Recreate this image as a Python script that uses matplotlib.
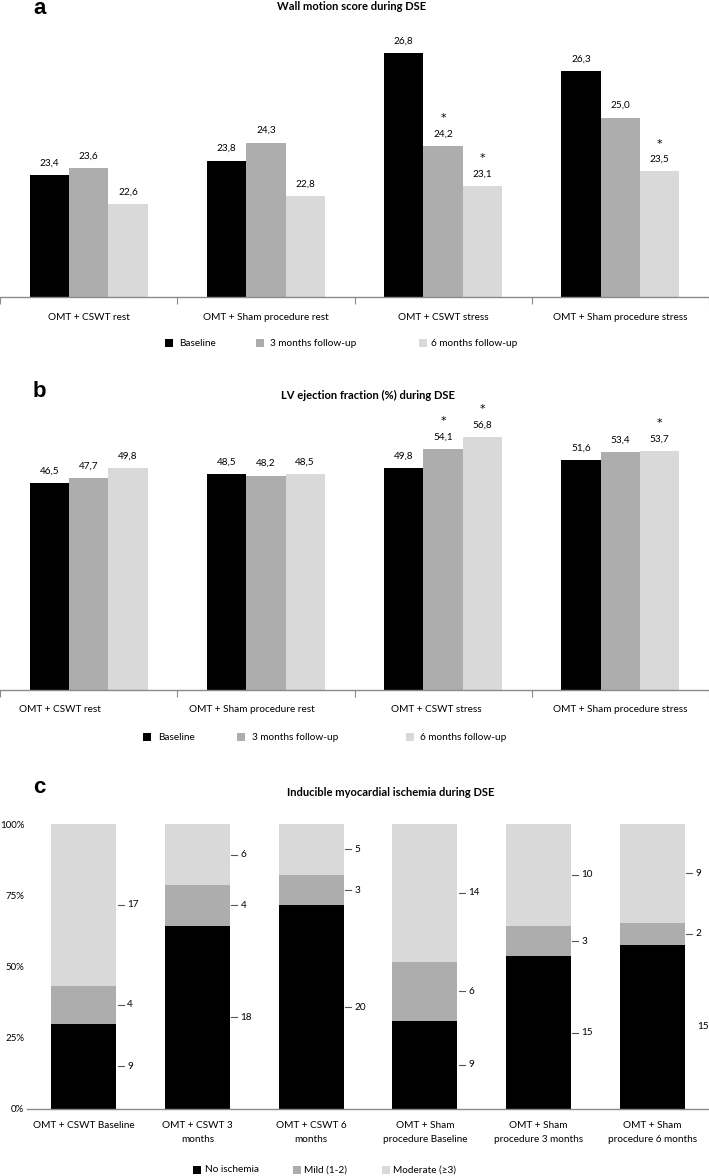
import matplotlib
matplotlib.use('Agg')
import matplotlib.pyplot as plt
from matplotlib.patches import Rectangle
import numpy as np

plt.rcParams['font.family'] = ['Lato', 'DejaVu Sans']

# --- data -------------------------------------------------------------
groups_ab = ['OMT + CSWT rest', 'OMT + Sham procedure rest',
             'OMT + CSWT stress', 'OMT + Sham procedure stress']
series_ab = ['Baseline', '3 months follow-up', '6 months follow-up']

wms_baseline = [23.4, 23.8, 26.8, 26.3]
wms_3m = [23.6, 24.3, 24.2, 25.0]
wms_6m = [22.6, 22.8, 23.1, 23.5]

lvef_baseline = [46.5, 48.5, 49.8, 51.6]
lvef_3m = [47.7, 48.2, 54.1, 53.4]
lvef_6m = [49.8, 48.5, 56.8, 53.7]

# significance marks (*) per series, per group
star_baseline = [False, False, False, False]
star_3m = [False, False, True, False]
star_6m = [False, False, True, True]

groups_c = ['OMT + CSWT Baseline', 'OMT + CSWT 3\nmonths', 'OMT + CSWT 6\nmonths',
            'OMT + Sham\nprocedure Baseline', 'OMT + Sham\nprocedure 3 months',
            'OMT + Sham\nprocedure 6 months']
series_c = ['No ischemia', 'Mild (1-2)', 'Moderate (\u22653)']
no_ischemia = [9, 18, 20, 9, 15, 15]
mild = [4, 4, 3, 6, 3, 2]
moderate = [17, 6, 5, 14, 10, 9]

colors = ['#000000', '#adadad', '#d9d9d9']
W, H = 709, 1176
FS = 7.2


def fx(px):
    return px / W


def fy(py):
    return 1 - py / H


def fmt(v):
    return f'{v:.1f}'.replace('.', ',')


def legend_item(xsq, xtxt, y, color, label):
    fig.add_artist(Rectangle((fx(xsq), fy(y + 4)), 8 / W, 8 / H,
                             transform=fig.transFigure, color=color, lw=0))
    fig.text(fx(xtxt), fy(y), label, fontsize=FS, va='center', ha='left')


def grouped_panel(ax, values, stars, ymin, ymax, label_x):
    w = 0.222
    x = np.arange(len(groups_ab))
    for k, (vals, st) in enumerate(zip(values, stars)):
        xs = x + (k - 1) * w
        ax.bar(xs, vals, width=w, color=colors[k], bottom=0, lw=0)
        for xi, v, s in zip(xs, vals, st):
            ax.annotate(fmt(v), (xi, v), xytext=(0, 8.6), textcoords='offset points',
                        ha='center', va='center', fontsize=FS)
            if s:
                ax.annotate('*', (xi, v), xytext=(0, 20), textcoords='offset points',
                            ha='center', va='center', fontsize=8, family='DejaVu Sans')
    ax.set_xlim(-0.5, 3.5)
    ax.set_ylim(ymin, ymax)
    for side in ['top', 'right', 'left']:
        ax.spines[side].set_visible(False)
    ax.spines['bottom'].set_color('#8a8a8a')
    ax.spines['bottom'].set_linewidth(1.0)
    ax.set_yticks([])
    ax.set_xticks([-0.5, 0.5, 1.5, 2.5, 3.5])
    ax.set_xticklabels([])
    ax.tick_params(axis='x', length=5, color='#8a8a8a', width=0.8)
    for lx, g in zip(label_x, groups_ab):
        ax.annotate(g, (lx, 0), xycoords=('data', 'axes fraction'),
                    xytext=(0, -14.4), textcoords='offset points',
                    ha='center', va='center', fontsize=FS)


fig = plt.figure(figsize=(W / 100, H / 100), dpi=100)

# --- panel a ----------------------------------------------------------
ax_a = fig.add_axes([0, fy(297), 1, 277 / H])
wms = [wms_baseline, wms_3m, wms_6m]
stars = [star_baseline, star_3m, star_6m]
grouped_panel(ax_a, wms, stars, 20, 20 + 277 / 35.9, [0, 1, 2, 3])
fig.text(fx(33), fy(14), 'a', fontsize=16, weight='bold', family='Liberation Sans')
fig.text(fx(352), fy(6), 'Wall motion score during DSE', fontsize=8,
         weight='bold', ha='center', va='center')
legend_item(165, 179, 343, colors[0], series_ab[0])
legend_item(256, 270, 343, colors[1], series_ab[1])
legend_item(419, 431, 343, colors[2], series_ab[2])

# --- panel b ----------------------------------------------------------
ax_b = fig.add_axes([0, fy(690), 1, 290 / H])
lvef = [lvef_baseline, lvef_3m, lvef_6m]
grouped_panel(ax_b, lvef, stars, 0, 290 / 4.45, [-0.16, 0.92, 1.96, 3.0])
fig.text(fx(33), fy(397), 'b', fontsize=16, weight='bold', family='Liberation Sans')
fig.text(fx(368), fy(395), 'LV ejection fraction (%) during DSE', fontsize=8,
         weight='bold', ha='center', va='center')
legend_item(143, 158, 737, colors[0], series_ab[0])
legend_item(237, 252, 737, colors[1], series_ab[1])
legend_item(406, 420, 737, colors[2], series_ab[2])

# --- panel c ----------------------------------------------------------
ax_c = fig.add_axes([fx(27), fy(1109), (W - 27) / W, 285 / H])
counts = np.array([no_ischemia, mild, moderate], dtype=float)
totals = counts.sum(axis=0)
pct = counts / totals * 100
xc = np.arange(len(groups_c))
wc = 0.57
bottom = np.zeros(len(groups_c))
for k in range(3):
    ax_c.bar(xc, pct[k], width=wc, bottom=bottom, color=colors[k], lw=0)
    mids = bottom + pct[k] / 2
    for i in range(len(groups_c)):
        xr = xc[i] + wc / 2
        if not (i == 5 and k == 0):
            ax_c.plot([xr + 0.013, xr + 0.065], [mids[i], mids[i]],
                      color='#555555', lw=0.8)
            ax_c.text(xr + 0.095, mids[i], f'{int(counts[k][i])}',
                      ha='left', va='center', fontsize=FS)
        else:
            ax_c.text(xr + 0.11, mids[i], f'{int(counts[k][i])}',
                      ha='left', va='center', fontsize=FS)
    bottom += pct[k]
ax_c.set_xlim(-0.5, 5.5)
ax_c.set_ylim(0, 100)
for side in ['top', 'right', 'left']:
    ax_c.spines[side].set_visible(False)
ax_c.spines['bottom'].set_color('#8a8a8a')
ax_c.spines['bottom'].set_linewidth(1.0)
ax_c.set_yticks([0, 25, 50, 75, 100])
ax_c.set_yticklabels(['0%', '25%', '50%', '75%', '100%'], fontsize=7)
ax_c.tick_params(axis='y', length=0, pad=2)
ax_c.set_xticks(xc)
ax_c.set_xticklabels(groups_c, fontsize=FS, linespacing=1.7)
ax_c.tick_params(axis='x', length=0, pad=9)
fig.text(fx(33), fy(793), 'c', fontsize=16, weight='bold', family='Liberation Sans')
fig.text(fx(391), fy(793), 'Inducible myocardial ischemia during DSE', fontsize=8,
         weight='bold', ha='center', va='center')
legend_item(193, 205, 1170, colors[0], series_c[0])
legend_item(293, 304, 1170, colors[1], series_c[1])
legend_item(382, 393, 1170, colors[2], series_c[2])

fig.savefig('out.png', dpi=100)
